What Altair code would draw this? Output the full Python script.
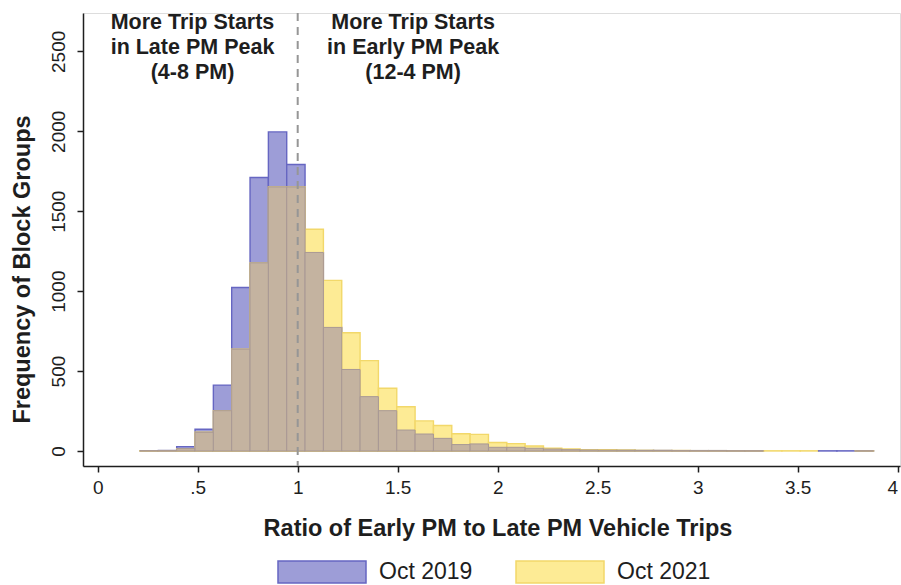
import altair as alt
import pandas as pd

# ---- data ----
bin_left = [0.2115, 0.3032, 0.3949, 0.4866, 0.5783, 0.6700, 0.7617, 0.8534, 0.9451, 1.0368,
            1.1285, 1.2202, 1.3119, 1.4036, 1.4953, 1.5870, 1.6787, 1.7704, 1.8621, 1.9538,
            2.0455, 2.1372, 2.2289, 2.3206, 2.4123, 2.5040, 2.5957, 2.6874, 2.7791, 2.8708,
            2.9625, 3.0542, 3.1459, 3.2376, 3.3293, 3.4210, 3.5127, 3.6044, 3.6961, 3.7878]
bin_width = 0.0917
count_2019 = [2, 3, 27, 136, 412, 1023, 1711, 1996, 1792, 1242,
              773, 510, 340, 252, 131, 106, 79, 40, 44, 23,
              23, 17, 12, 8, 6, 5, 4, 3, 3, 2,
              2, 2, 1, 1, 0, 0, 0, 1, 1, 1]
count_2021 = [2, 2, 15, 117, 252, 637, 1177, 1652, 1652, 1387,
              1067, 740, 565, 392, 277, 188, 159, 108, 104, 53,
              46, 31, 17, 12, 8, 8, 6, 4, 3, 3,
              2, 2, 1, 1, 1, 1, 1, 0, 0, 1]
series_names = ["Oct 2019", "Oct 2021"]
x_ticks = [0, 0.5, 1, 1.5, 2, 2.5, 3, 3.5, 4]
x_tick_labels = ["0", ".5", "1", "1.5", "2", "2.5", "3", "3.5", "4"]
y_ticks = [0, 500, 1000, 1500, 2000, 2500]
ref_ratio = [1.0]
left_note = ["More Trip Starts", "in Late PM Peak", "(4-8 PM)"]
right_note = ["More Trip Starts", "in Early PM Peak", "(12-4 PM)"]
left_note_pos = (0.474, 2745)
right_note_pos = (1.577, 2745)

x_title = "Ratio of Early PM to Late PM Vehicle Trips"
y_title = "Frequency of Block Groups"

# ---- styling ----
FONT = "Liberation Sans"
BLUE_FILL, BLUE_LINE = "#9d9dd7", "#6666c2"
YEL_FILL, YEL_LINE = "#fdeb95", "#f2d86a"
OVL_FILL, OVL_LINE = "#c4b3a0", "#a89895"
INK = "#1e1e1e"

df = pd.DataFrame({"left": bin_left, "c2019": count_2019, "c2021": count_2021})
df["right"] = df["left"] + bin_width

xscale = alt.Scale(domain=[-0.0735, 4.0115], nice=False, zero=False)
yscale = alt.Scale(domain=[-94, 2740], nice=False, zero=False)

label_expr = "''"
for v, lab in reversed(list(zip(x_ticks, x_tick_labels))):
    label_expr = f"datum.value == {v} ? '{lab}' : ({label_expr})"

x_axis = alt.Axis(values=x_ticks, labelExpr=label_expr, grid=False, labelFlush=False,
                  labelAlign={"condition": {"test": f"datum.value == {x_ticks[-1]}", "value": "right"},
                              "value": "center"},
                  labelFontSize=19, labelColor=INK, labelPadding=6,
                  tickSize=6, tickWidth=1.5, tickColor=INK,
                  domainWidth=1.5, domainColor=INK,
                  titleFontSize=23.5, titleFontWeight="bold", titleColor=INK, titlePadding=19,
                  titleX=414.5)
y_axis = alt.Axis(values=y_ticks, format="d", grid=False, labelAngle=270, labelAlign="center",
                  labelBaseline="bottom", labelFontSize=19, labelColor=INK, labelPadding=9,
                  tickSize=6, tickWidth=1.5, tickColor=INK,
                  domainWidth=1.5, domainColor=INK,
                  titleFontSize=23.5, titleFontWeight="bold", titleColor=INK, titlePadding=15,
                  titleY=256)

legend = alt.Legend(title=None, orient="none", legendX=194, legendY=547, direction="horizontal",
                    symbolType="M-1,-1L7,-1L7,1L-1,1Z", symbolSize=484, symbolStrokeWidth=1.5,
                    symbolOpacity=1, labelFontSize=23, labelColor=INK, labelOffset=78,
                    columnPadding=40, labelFont=FONT)

series_expr = f"datum.key == 'c2019' ? '{series_names[0]}' : '{series_names[1]}'"

bars = (
    alt.Chart(df)
    .transform_fold(["c2019", "c2021"], as_=["key", "value"])
    .transform_calculate(series=series_expr)
    .transform_filter("datum.value > 0")
    .mark_bar(strokeWidth=1.4, opacity=1)
    .encode(
        x=alt.X("left:Q", scale=xscale, axis=x_axis, title=x_title),
        x2="right:Q",
        y=alt.Y("value:Q", scale=yscale, axis=y_axis, title=y_title),
        y2=alt.datum(0),
        fill=alt.Fill("series:N", scale=alt.Scale(domain=series_names, range=[BLUE_FILL, YEL_FILL]),
                      legend=legend),
        stroke=alt.Stroke("series:N", scale=alt.Scale(domain=series_names, range=[BLUE_LINE, YEL_LINE]),
                          legend=legend),
    )
)

overlap = (
    alt.Chart(df)
    .transform_calculate(m="min(datum.c2019, datum.c2021)")
    .transform_filter("datum.m > 0")
    .mark_bar(fill=OVL_FILL, stroke=OVL_LINE, strokeWidth=1, opacity=1)
    .encode(
        x=alt.X("left:Q", scale=xscale, title=x_title),
        x2="right:Q",
        y=alt.Y("m:Q", scale=yscale, title=y_title),
        y2=alt.datum(0),
    )
)

rule = (
    alt.Chart(pd.DataFrame({"left": ref_ratio}))
    .mark_rule(color="#969696", strokeWidth=2, strokeDash=[8, 6])
    .encode(x=alt.X("left:Q", scale=xscale, title=x_title))
)

def note(lines, pos):
    return alt.Chart(pd.DataFrame({"a": [0]})).mark_text(
        text=lines, font=FONT, fontSize=21.5, fontWeight="bold", color=INK,
        align="center", baseline="top", lineHeight=25,
    ).encode(x=alt.datum(pos[0], scale=xscale), y=alt.datum(pos[1], scale=yscale))

chart = (
    alt.layer(bars, overlap, rule, note(left_note, left_note_pos), note(right_note, right_note_pos))
    .properties(width=817, height=453, padding={"left": 83, "top": 13, "right": 1, "bottom": 119},
                autosize=alt.AutoSizeParams(type="none"), background="white")
    .configure_view(stroke=None)
    .configure(font=FONT)
)

chart.save("out.html", embed_options={"renderer": "svg", "actions": False})
